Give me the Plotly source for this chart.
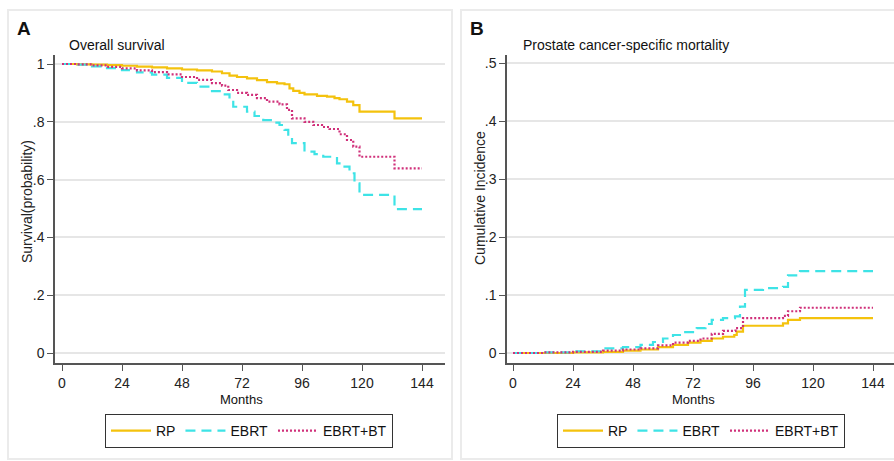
import plotly.graph_objects as go

W, H = 894, 461

# ---------------- Data ----------------
# Panel A: Overall survival (Kaplan-Meier, step functions)
os_rp_t = [0, 6, 12, 18, 24, 30, 36, 42, 48, 54, 60, 64, 67, 70, 74, 78, 82, 86, 89, 91, 92.5, 95, 97, 102, 106, 109, 111, 114, 116.5, 119, 133, 144]
os_rp_v = [1.0, 0.999, 0.998, 0.996, 0.994, 0.991, 0.988, 0.985, 0.981, 0.978, 0.974, 0.968, 0.960, 0.955, 0.950, 0.944, 0.937, 0.933, 0.930, 0.916, 0.907, 0.900, 0.895, 0.890, 0.887, 0.882, 0.878, 0.870, 0.858, 0.835, 0.812, 0.812]

os_ebrt_t = [0, 6, 12, 18, 24, 30, 36, 42, 48, 54, 60, 64, 67, 68.5, 74, 77, 80.5, 84, 87, 89, 90.5, 92, 97, 101, 104.5, 110, 113, 115, 117, 119, 133, 144]
os_ebrt_v = [1.0, 0.998, 0.992, 0.986, 0.979, 0.971, 0.963, 0.952, 0.935, 0.922, 0.906, 0.895, 0.875, 0.852, 0.835, 0.820, 0.806, 0.797, 0.789, 0.772, 0.750, 0.726, 0.697, 0.688, 0.679, 0.656, 0.645, 0.622, 0.587, 0.547, 0.498, 0.498]

os_bt_t = [0, 6, 12, 18, 24, 30, 36, 42, 48, 54, 60, 64, 66.5, 70, 74, 78, 82, 87, 90, 92, 97, 100.5, 104, 107, 111, 114, 116.5, 119, 133, 144]
os_bt_v = [1.0, 0.999, 0.995, 0.990, 0.985, 0.978, 0.972, 0.964, 0.955, 0.945, 0.934, 0.925, 0.910, 0.900, 0.893, 0.882, 0.870, 0.860, 0.841, 0.812, 0.800, 0.789, 0.782, 0.775, 0.757, 0.737, 0.714, 0.679, 0.639, 0.639]

# Panel B: Prostate cancer-specific mortality (cumulative incidence)
pcsm_rp_t = [0, 12, 24, 36, 44, 51, 58, 64, 70, 75, 79.5, 84, 88.5, 89.5, 92, 108, 110, 114.8, 144]
pcsm_rp_v = [0, 0.0, 0.001, 0.002, 0.004, 0.006, 0.010, 0.014, 0.018, 0.021, 0.025, 0.028, 0.031, 0.037, 0.047, 0.051, 0.057, 0.060, 0.060]

pcsm_ebrt_t = [0, 12, 24, 36, 44, 51, 56, 60, 64, 68, 73.5, 77, 79.5, 84, 88.8, 90.8, 92.8, 100, 108, 110, 114.8, 144]
pcsm_ebrt_v = [0, 0.001, 0.003, 0.008, 0.010, 0.014, 0.019, 0.025, 0.031, 0.036, 0.043, 0.050, 0.057, 0.060, 0.063, 0.080, 0.109, 0.112, 0.114, 0.134, 0.141, 0.141]

pcsm_bt_t = [0, 12, 24, 36, 44, 51, 58, 64, 70, 75, 79.5, 84, 89, 92, 108, 110, 114.8, 144]
pcsm_bt_v = [0, 0.001, 0.002, 0.004, 0.006, 0.008, 0.013, 0.018, 0.021, 0.025, 0.033, 0.038, 0.043, 0.060, 0.064, 0.072, 0.078, 0.078]

groups = ["RP", "EBRT", "EBRT+BT"]
x_ticks = [0, 24, 48, 72, 96, 120, 144]
os_ticks = [0, 0.2, 0.4, 0.6, 0.8, 1.0]
os_tick_text = ["0", ".2", ".4", ".6", ".8", "1"]
pcsm_ticks = [0, 0.1, 0.2, 0.3, 0.4, 0.5]
pcsm_tick_text = ["0", ".1", ".2", ".3", ".4", ".5"]

# ---------------- Styles ----------------
COL_RP = "#F4C20D"
COL_EBRT = "#3EE3E6"
COL_BT = "#D0307A"
FONT = "Liberation Sans, Arial, sans-serif"
NARROW = "Liberation Sans Narrow, Arial Narrow, Liberation Sans, sans-serif"
AX = "#555555"
GRID = "#E6E6E6"

fig = go.Figure()

styles = [
    (COL_RP, "solid", 2.2),
    (COL_EBRT, "10px,6px", 2.2),
    (COL_BT, "2px,2px", 2.2),
]

os_series = [(os_rp_t, os_rp_v), (os_ebrt_t, os_ebrt_v), (os_bt_t, os_bt_v)]
pcsm_series = [(pcsm_rp_t, pcsm_rp_v), (pcsm_ebrt_t, pcsm_ebrt_v), (pcsm_bt_t, pcsm_bt_v)]

for name, (t, v), (c, d, w) in zip(groups, os_series, styles):
    fig.add_trace(go.Scatter(x=t, y=v, mode="lines", name=name, line=dict(color=c, dash=d, width=w, shape="hv"),
                             xaxis="x", yaxis="y", legend="legend"))
for name, (t, v), (c, d, w) in zip(groups, pcsm_series, styles):
    fig.add_trace(go.Scatter(x=t, y=v, mode="lines", name=name, line=dict(color=c, dash=d, width=w, shape="hv"),
                             xaxis="x2", yaxis="y2", legend="legend2"))

def px_x(p):
    return p / W

def px_y(p):
    return 1 - p / H

common_x = dict(tickvals=x_ticks, ticks="outside", ticklen=6, tickcolor=AX, showline=True, linecolor=AX,
                linewidth=1.5, showgrid=False, zeroline=False, tickfont=dict(size=14, color="#222", family=NARROW))
common_y = dict(ticks="outside", ticklen=6, tickcolor=AX, showline=True, linecolor=AX, linewidth=1.5,
                showgrid=True, gridcolor=GRID, gridwidth=1.5, zeroline=False,
                tickfont=dict(size=14, color="#222", family=NARROW))

yb, yt = px_y(363), px_y(55)

leg_common = dict(orientation="h", xanchor="left", yanchor="top", itemwidth=40,
                  bordercolor="#333", borderwidth=1, font=dict(size=14, family=NARROW, color="#111"), bgcolor="white")

fig.update_layout(
    width=W, height=H, margin=dict(l=0, r=0, t=0, b=0),
    paper_bgcolor="white", plot_bgcolor="white",
    font=dict(family=FONT, size=12, color="#222"),
    xaxis=dict(domain=[px_x(55), px_x(445)], range=[-2.8, 153.2], anchor="y", **common_x),
    yaxis=dict(domain=[yb, yt], range=[-10 / 289, 1 + 9 / 289], anchor="x",
               tickvals=os_ticks, ticktext=os_tick_text, **common_y),
    xaxis2=dict(domain=[px_x(507), 1.0], range=[-2.4, 152.4], anchor="y2", **common_x),
    yaxis2=dict(domain=[yb, yt], range=[-10 / 580, 0.5 + 8 / 580], anchor="x2",
                tickvals=pcsm_ticks, ticktext=pcsm_tick_text, **common_y),
    legend=dict(x=px_x(105), y=px_y(414), **leg_common),
    legend2=dict(x=px_x(557), y=px_y(414), **leg_common),
)

# panel frames
fig.add_shape(type="rect", xref="paper", yref="paper", x0=px_x(8), x1=px_x(452), y0=px_y(459), y1=px_y(10),
              line=dict(color="#EBEBEB", width=2), layer="below")
fig.add_shape(type="rect", xref="paper", yref="paper", x0=px_x(461), x1=px_x(900), y0=px_y(459), y1=px_y(10),
              line=dict(color="#EBEBEB", width=2), layer="below")

ann = [
    dict(text="<b>A</b>", x=px_x(15), y=px_y(29), size=19, xa="left", fam=FONT),
    dict(text="<b>B</b>", x=px_x(468), y=px_y(29), size=19, xa="left", fam=FONT),
    dict(text="Overall survival", x=px_x(67), y=px_y(45), size=14, xa="left", fam=FONT),
    dict(text="Prostate cancer-specific mortality", x=px_x(521), y=px_y(45), size=14, xa="left", fam=FONT),
    dict(text="Months", x=px_x(242), y=px_y(399), size=13, xa="center", fam=NARROW),
    dict(text="Months", x=px_x(693), y=px_y(399), size=13, xa="center", fam=NARROW),
]
for a in ann:
    fig.add_annotation(text=a["text"], x=a["x"], y=a["y"], xref="paper", yref="paper", showarrow=False,
                       xanchor=a["xa"], yanchor="middle", font=dict(size=a["size"], family=a["fam"], color="#111"))

fig.add_annotation(text="Survival(probability)", x=px_x(27), y=px_y(202), xref="paper", yref="paper",
                   showarrow=False, textangle=-90, xanchor="center", yanchor="middle",
                   font=dict(size=14, family=NARROW, color="#222"))
fig.add_annotation(text="Cumulative Incidence", x=px_x(480), y=px_y(198), xref="paper", yref="paper",
                   showarrow=False, textangle=-90, xanchor="center", yanchor="middle",
                   font=dict(size=14, family=FONT, color="#222"))

fig.write_html("out.html")
